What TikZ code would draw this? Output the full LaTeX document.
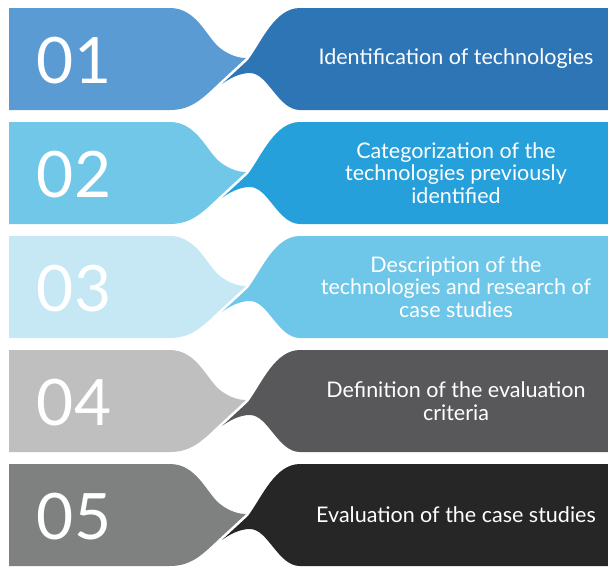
\documentclass[tikz,border=0pt]{standalone}
\usepackage{fontspec}
\setmainfont{Lato}
\definecolor{l1}{HTML}{5B9BD4}\definecolor{r1}{HTML}{2E75B6}
\definecolor{l2}{HTML}{71C7E8}\definecolor{r2}{HTML}{25A0DA}
\definecolor{l3}{HTML}{C5E8F4}\definecolor{r3}{HTML}{6EC6E9}
\definecolor{l4}{HTML}{BFBFBF}\definecolor{r4}{HTML}{58585A}
\definecolor{l5}{HTML}{7F8180}\definecolor{r5}{HTML}{262626}
\tikzset{
  numtext/.style={text=white,font=\fontsize{64}{64}\selectfont,anchor=base,inner sep=0pt},
  steptext/.style={text=white,font=\fontsize{21.5}{22.5}\selectfont,align=center,inner sep=0pt},
}
\begin{document}
\begin{tikzpicture}[x=1pt,y=-1pt]
\useasboundingbox (0,0) rectangle (608,566);
\foreach \i/\num/\txt in {0/01/{Identification of technologies},
  1/02/{Categorization of the\\technologies previously\\identified},
  2/03/{Description of the\\technologies and research of\\case studies},
  3/04/{Definition of the evaluation\\criteria},
  4/05/{Evaluation of the case studies}}{
  \pgfmathtruncatemacro{\k}{\i+1}
  \begin{scope}[shift={(0,8+114*\i)}]
    \fill[l\k] (9,0) -- (170,0) .. controls (197,0) and (207,30) .. (220,40)
      .. controls (230,48) and (240,50) .. (246,50) -- (220,74)
      .. controls (203,90) and (192,102) .. (170,102) -- (9,102) -- cycle;
    \fill[r\k] (248,52) .. controls (262,33) and (275,0) .. (300,0) -- (608,0)
      -- (608,102) -- (300,102) .. controls (278,102) and (268,65) .. (250,65)
      .. controls (240,65) and (230,70) .. (222,76) -- cycle;
    \node[numtext] (n\k) at (74,75) {\num};
    \node[steptext] (t\k) at (456,51) {\txt};
  \end{scope}
}
\end{tikzpicture}
\end{document}
